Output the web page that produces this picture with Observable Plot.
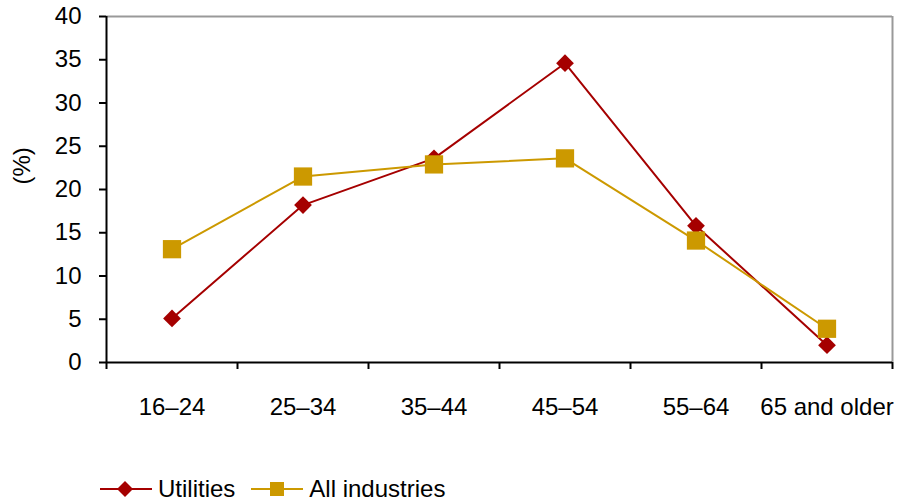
<!DOCTYPE html>
<html>
<head>
<meta charset="utf-8">
<script src="https://cdn.jsdelivr.net/npm/d3@7"></script>
<script src="https://cdn.jsdelivr.net/npm/@observablehq/plot@0.6"></script>
<style>
  body { margin: 0; background: #fff; font-family: "Liberation Sans", Arial, sans-serif; }
  #wrap { position: relative; width: 903px; height: 504px; }
  #legend { position: absolute; left: 100px; top: 477px; display: flex; align-items: center; font-size: 24px; line-height: 24px; color: #000; }
  .item { display: flex; align-items: center; }
  .item svg { display: block; }
  .item span { margin-left: 6px; margin-right: 16px; }
</style>
</head>
<body>
<div id="wrap">
  <div id="chart"></div>
  <div id="legend"></div>
</div>
<script>
const ageGroups = ["16–24", "25–34", "35–44", "45–54", "55–64", "65 and older"];
const utilities = [5.1, 18.2, 23.6, 34.6, 15.8, 2.0];
const allIndustries = [13.1, 21.5, 22.9, 23.6, 14.1, 3.9];
const yTicks = [0, 5, 10, 15, 20, 25, 30, 35, 40];
const seriesNames = ["Utilities", "All industries"];
const colors = ["#a50000", "#cc9900"];

const utilData = ageGroups.map((a, i) => ({pos: i + 0.5, age: a, value: utilities[i]}));
const allData = ageGroups.map((a, i) => ({pos: i + 0.5, age: a, value: allIndustries[i]}));

const chart = Plot.plot({
  width: 903,
  height: 430,
  marginLeft: 106,
  marginRight: 11,
  marginTop: 16,
  marginBottom: 68,
  style: {fontFamily: "'Liberation Sans', Arial, sans-serif", fontSize: "24px", color: "#000", background: "#fff"},
  x: {type: "linear", domain: [0, ageGroups.length]},
  y: {domain: [0, 40]},
  marks: [
    Plot.ruleY([40], {stroke: "#999", strokeWidth: 2}),
    Plot.ruleX([ageGroups.length], {stroke: "#999", strokeWidth: 2}),
    Plot.axisY({ticks: yTicks, tickSize: 7, tickPadding: 18, label: null, fontSize: 24, strokeWidth: 2, stroke: "#000"}),
    Plot.axisX({ticks: d3.range(0, ageGroups.length + 1), tickSize: 7, tickFormat: () => "", label: null, strokeWidth: 2, stroke: "#000"}),
    Plot.axisX({ticks: d3.range(0.5, ageGroups.length, 1), tickSize: 0, tickPadding: 35, tickFormat: d => ageGroups[Math.floor(d)], label: null, fontSize: 24}),
    Plot.ruleX([0], {stroke: "#000", strokeWidth: 2}),
    Plot.ruleY([0], {stroke: "#000", strokeWidth: 2}),
    Plot.text(["(%)"], {frameAnchor: "left", text: d => d, rotate: -90, dx: -84, dy: -5, fontSize: 24, fill: "#000"}),
    Plot.line(utilData, {x: "pos", y: "value", stroke: colors[0], strokeWidth: 2}),
    Plot.dot(utilData, {x: "pos", y: "value", symbol: "diamond2", r: 8, fill: colors[0], stroke: "none"}),
    Plot.line(allData, {x: "pos", y: "value", stroke: colors[1], strokeWidth: 2}),
    Plot.dot(allData, {x: "pos", y: "value", symbol: "square", r: 10.3, fill: colors[1], stroke: "none"})
  ]
});
document.getElementById("chart").appendChild(chart);

const legend = document.getElementById("legend");
const markers = [
  `<polygon points="25,1 33,9 25,17 17,9" fill="${colors[0]}"/>`,
  `<rect x="19" y="2" width="14" height="14" fill="${colors[1]}"/>`
];
seriesNames.forEach((name, i) => {
  const item = document.createElement("div");
  item.className = "item";
  item.innerHTML = `<svg width="52" height="18"><line x1="0" x2="52" y1="9" y2="9" stroke="${colors[i]}" stroke-width="2"/>${markers[i]}</svg><span>${name}</span>`;
  legend.appendChild(item);
});
</script>
</body>
</html>
